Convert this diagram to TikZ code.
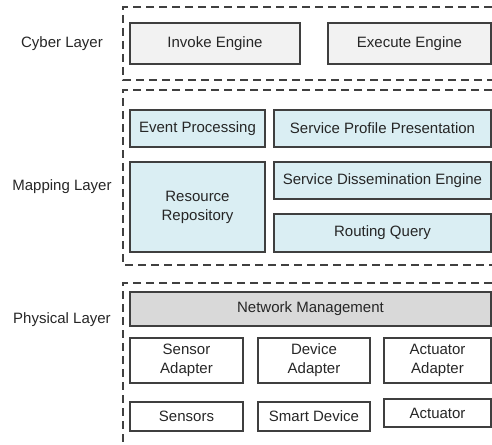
\documentclass[tikz,border=0pt]{standalone}
\usepackage{fontspec}
\setmainfont{Liberation Sans}
\usepackage{xcolor}

\definecolor{cybfill}{HTML}{F2F2F2}
\definecolor{mapfill}{HTML}{DAEEF3}
\definecolor{netfill}{HTML}{D9D9D9}
\definecolor{edgegray}{HTML}{3F3F3F}

\begin{document}
\begin{tikzpicture}[
            x=1pt, y=-1pt,
            every node/.style={font=\fontsize{15}{19}\selectfont, text=black!85},
            bx/.style={draw=edgegray, line width=1.2pt, inner sep=0pt, align=center},
            layer/.style={dash pattern=on 8pt off 5pt, draw=black!75, line width=1.1pt},
        ]
            \useasboundingbox (0,0) rectangle (492,444);
            % layer frames
            \draw[layer] (492,7) -| (123,80) -- (492,80);
            \draw[layer] (492,90) -| (123,265) -- (492,265);
            \draw[layer] (492,283) -| (123,444);
            \node (cyber) at (62,44) {Cyber Layer};
            \node (mapping) at (62,187) {Mapping Layer};
            \node (physical) at (62,320) {Physical Layer};
            % cyber
            \node[bx, fill=cybfill, minimum width=170pt, minimum height=41pt] (invoke) at (215,43.5) {Invoke Engine};
            \node[bx, fill=cybfill, minimum width=163pt, minimum height=41pt] (execute) at (409.5,43.5) {Execute Engine};
            % mapping
            \node[bx, fill=mapfill, minimum width=135pt, minimum height=37pt] (event) at (197.5,128.5) {Event Processing};
            \node[bx, fill=mapfill, minimum width=217pt, minimum height=37pt] (profile) at (382.5,128.5) {Service Profile Presentation};
            \node[bx, fill=mapfill, minimum width=135pt, minimum height=90pt] (repo) at (197.5,207) {Resource\\Repository};
            \node[bx, fill=mapfill, minimum width=217pt, minimum height=37pt] (dissem) at (382.5,180.5) {Service Dissemination Engine};
            \node[bx, fill=mapfill, minimum width=217pt, minimum height=38pt] (routing) at (382.5,233) {Routing Query};
            % physical
            \node[bx, fill=netfill, minimum width=361pt, minimum height=34pt] (netmgmt) at (310.5,309) {Network Management};
            \node[bx, minimum width=113pt, minimum height=45pt] (sadapt) at (186.5,360.5) {Sensor\\Adapter};
            \node[bx, minimum width=112pt, minimum height=45pt] (dadapt) at (314,360.5) {Device\\Adapter};
            \node[bx, minimum width=107pt, minimum height=45pt] (aadapt) at (437.5,360.5) {Actuator\\Adapter};
            \node[bx, minimum width=113pt, minimum height=29pt] (sensors) at (186.5,416.5) {Sensors};
            \node[bx, minimum width=112pt, minimum height=29pt] (smart) at (314,416.5) {Smart Device};
            \node[bx, minimum width=107pt, minimum height=28pt] (actuator) at (437.5,413) {Actuator};
        \end{tikzpicture}
\end{document}
